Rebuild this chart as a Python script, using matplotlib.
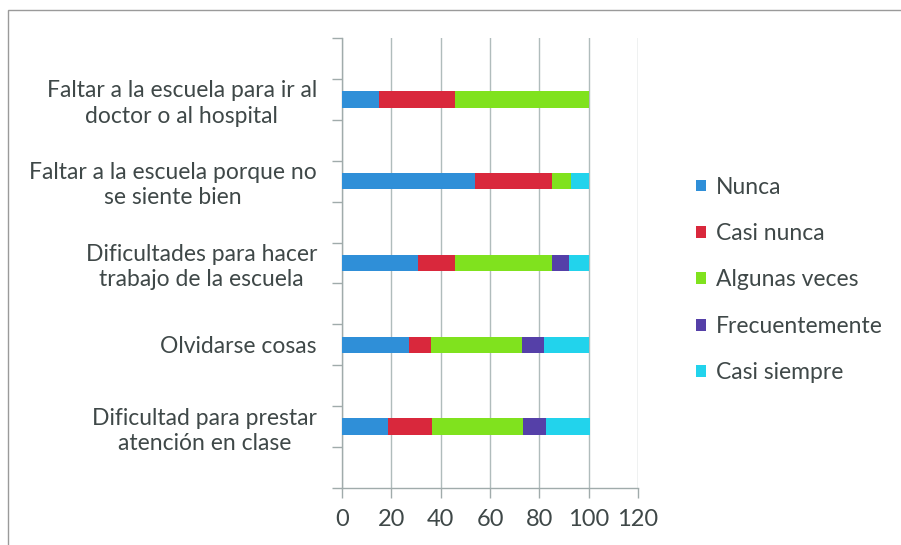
import matplotlib
matplotlib.use("Agg")
import matplotlib.pyplot as plt
from matplotlib.patches import Rectangle
import numpy as np

categories = [
    "Dificultad para prestar\natención en clase",
    "Olvidarse cosas",
    "Dificultades para hacer\ntrabajo de la escuela",
    "Faltar a la escuela porque no\nse siente bien",
    "Faltar a la escuela para ir al\ndoctor o al hospital",
]
series_names = ["Nunca", "Casi nunca", "Algunas veces", "Frecuentemente", "Casi siempre"]
nunca = [18.5, 27, 31, 54, 15]
casi_nunca = [18, 9, 15, 31, 31]
algunas = [37, 37, 39, 8, 54]
frecuente = [9, 9, 7, 0, 0]
casi_siempre = [18, 18, 8, 7, 0]
xticks = [0, 20, 40, 60, 80, 100, 120]

colors = ["#2f8fd8", "#d9283c", "#80e21e", "#5540a8", "#22d3ec"]
values = [nunca, casi_nunca, algunas, frecuente, casi_siempre]

plt.rcParams['font.family'] = ['Lato', 'DejaVu Sans']
txt = "#3f4848"

fig = plt.figure(figsize=(9.01, 5.45), dpi=100)
fig.patch.set_facecolor("white")
fig.add_artist(Rectangle((8/901, -0.05), 1.2, 1 - 10/545 + 0.05, transform=fig.transFigure,
                         fill=False, edgecolor="#9a9a9a", linewidth=1.0))

ax = fig.add_axes([342/901, 1 - 488/545, (638 - 342)/901, (488 - 38)/545])
y = np.arange(len(categories))
left = np.zeros(len(categories))
handles = []
for name, vals, c in zip(series_names, values, colors):
    h = ax.barh(y, vals, left=left, height=0.2, color=c, label=name, zorder=3)
    handles.append(h)
    left = left + np.array(vals)

ax.set_xlim(0, 120)
ax.set_ylim(-0.75, 4.75)
ax.set_xticks(xticks)
ax.set_xticklabels([str(t) for t in xticks])
ax.set_yticks(y)
ax.set_yticklabels(categories, ha="right", multialignment="center", linespacing=1.25)
ax.set_yticks(np.arange(-0.75, 4.8, 0.5), minor=True)
ax.tick_params(axis="y", which="major", length=0, pad=18, labelsize=16.5, labelcolor=txt)
ax.tick_params(axis="y", which="minor", length=7, color="#a0abab", width=1)
ax.tick_params(axis="x", length=7, color="#a0abab", width=1, pad=8, labelsize=17, labelcolor=txt)
ax.grid(axis="x", color="#b0bcbc", linewidth=1.0, zorder=0)
for s in ["top", "right"]:
    ax.spines[s].set_visible(False)
for s in ["left", "bottom"]:
    ax.spines[s].set_color("#a0abab")
    ax.spines[s].set_linewidth(1.0)

fig.legend(handles=handles, labels=series_names, loc="center left",
           bbox_to_anchor=(696/901, 1 - 280/545), frameon=False, fontsize=16.5,
           labelcolor=txt, handlelength=0.42, handleheight=0.42, handletextpad=0.45,
           labelspacing=1.11, borderpad=0, borderaxespad=0)

fig.savefig("out.png", dpi=100)
